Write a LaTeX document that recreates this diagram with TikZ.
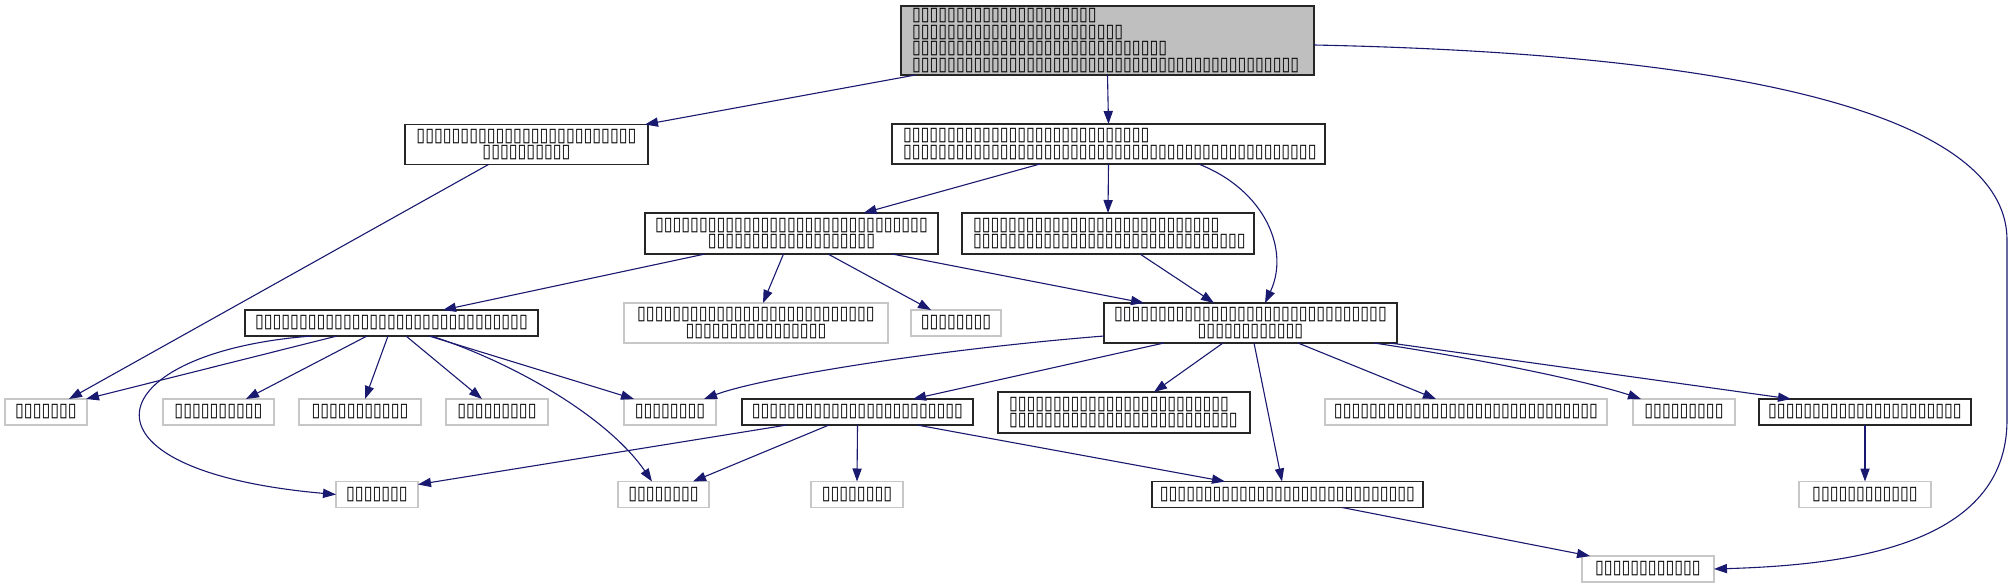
\documentclass[tikz,border=0pt]{standalone}
\usepackage{fontspec}
\newfontfamily\tofu[FakeStretch=0.842]{DejaVu Sans}
\usetikzlibrary{arrows.meta}
\definecolor{edgeblue}{HTML}{191970}
\definecolor{rootgray}{HTML}{BFBFBF}
\begin{document}
\begin{tikzpicture}[x=0.5pt,y=-0.5pt,
  every node/.style={font=\tofu\fontsize{9.5pt}{7pt}\selectfont, inner sep=0pt, outer sep=0pt},
  bbox/.style={draw=black!85, line width=0.6pt, fill=white},
  gbox/.style={draw=black!22, line width=0.7pt, fill=white},
  oneline/.style={minimum height=13pt},
  twoline/.style={minimum height=20pt, align=center},
  conn/.style={draw=edgeblue, line width=0.55pt, -{Triangle[length=6.5pt,width=4.6pt]}}]
\useasboundingbox (0,0) rectangle (2013,588);
% row 0
\node[bbox, fill=rootgray, minimum width=206.5pt, minimum height=34.5pt, text width=195.5pt, align=left] (root) at (1107.5,40.5)
 {▯▯▯▯▯▯▯▯▯▯▯▯▯▯▯▯▯▯▯▯▯\\▯▯▯▯▯▯▯▯▯▯▯▯▯▯▯▯▯▯▯▯▯▯▯▯\\▯▯▯▯▯▯▯▯▯▯▯▯▯▯▯▯▯▯▯▯▯▯▯▯▯▯▯▯▯\\▯▯▯▯▯▯▯▯▯▯▯▯▯▯▯▯▯▯▯▯▯▯▯▯▯▯▯▯▯▯▯▯▯▯▯▯▯▯▯▯▯▯▯▯};
% row 1
\node[bbox, twoline, minimum width=121.5pt] (A) at (526.5,144.5)
 {▯▯▯▯▯▯▯▯▯▯▯▯▯▯▯▯▯▯▯▯▯▯▯▯▯\\▯▯▯▯▯▯▯▯▯▯};
\node[bbox, minimum width=216.5pt, minimum height=20pt, text width=205.5pt, align=left] (B) at (1108.5,144)
 {▯▯▯▯▯▯▯▯▯▯▯▯▯▯▯▯▯▯▯▯▯▯▯▯▯▯▯▯\\▯▯▯▯▯▯▯▯▯▯▯▯▯▯▯▯▯▯▯▯▯▯▯▯▯▯▯▯▯▯▯▯▯▯▯▯▯▯▯▯▯▯▯▯▯▯▯};
% row 2
\node[bbox, twoline, minimum width=146.5pt, minimum height=20.5pt] (C) at (791.5,233.5)
 {▯▯▯▯▯▯▯▯▯▯▯▯▯▯▯▯▯▯▯▯▯▯▯▯▯▯▯▯▯▯▯\\▯▯▯▯▯▯▯▯▯▯▯▯▯▯▯▯▯▯▯};
\node[bbox, minimum width=146pt, minimum height=20.5pt, text width=135pt, align=left] (D) at (1108,233.5)
 {▯▯▯▯▯▯▯▯▯▯▯▯▯▯▯▯▯▯▯▯▯▯▯▯▯▯▯▯\\▯▯▯▯▯▯▯▯▯▯▯▯▯▯▯▯▯▯▯▯▯▯▯▯▯▯▯▯▯▯▯};
% row 3
\node[bbox, oneline, minimum width=146.5pt] (E) at (391.5,323)
 {▯▯▯▯▯▯▯▯▯▯▯▯▯▯▯▯▯▯▯▯▯▯▯▯▯▯▯▯▯▯▯};
\node[gbox, twoline, minimum width=132pt] (F) at (756,323)
 {▯▯▯▯▯▯▯▯▯▯▯▯▯▯▯▯▯▯▯▯▯▯▯▯▯▯▯\\▯▯▯▯▯▯▯▯▯▯▯▯▯▯▯▯};
\node[gbox, oneline, minimum width=45pt] (G) at (956,323) {▯▯▯▯▯▯▯▯};
\node[bbox, twoline, minimum width=146.5pt] (H) at (1250.5,323)
 {▯▯▯▯▯▯▯▯▯▯▯▯▯▯▯▯▯▯▯▯▯▯▯▯▯▯▯▯▯▯▯\\▯▯▯▯▯▯▯▯▯▯▯▯};
% row 4
\node[gbox, oneline, minimum width=41pt] (I) at (46,412) {▯▯▯▯▯▯▯};
\node[gbox, oneline, minimum width=55.5pt] (J) at (218.5,412) {▯▯▯▯▯▯▯▯▯▯};
\node[gbox, oneline, minimum width=61pt] (K) at (360,412) {▯▯▯▯▯▯▯▯▯▯▯};
\node[gbox, oneline, minimum width=51pt] (L) at (497,412) {▯▯▯▯▯▯▯▯▯};
\node[gbox, oneline, minimum width=46pt] (M) at (670,412) {▯▯▯▯▯▯▯▯};
\node[bbox, oneline, minimum width=115.5pt] (N) at (857.5,412) {▯▯▯▯▯▯▯▯▯▯▯▯▯▯▯▯▯▯▯▯▯▯▯▯};
\node[bbox, minimum width=126pt, minimum height=20.5pt, text width=115pt, align=left] (O) at (1124,412.5)
 {▯▯▯▯▯▯▯▯▯▯▯▯▯▯▯▯▯▯▯▯▯▯▯▯▯\\▯▯▯▯▯▯▯▯▯▯▯▯▯▯▯▯▯▯▯▯▯▯▯▯▯▯};
\node[gbox, oneline, minimum width=141pt] (P) at (1466,412) {▯▯▯▯▯▯▯▯▯▯▯▯▯▯▯▯▯▯▯▯▯▯▯▯▯▯▯▯▯▯};
\node[gbox, oneline, minimum width=51pt] (Q) at (1684,412) {▯▯▯▯▯▯▯▯▯};
\node[bbox, oneline, minimum width=106pt] (R) at (1865,412) {▯▯▯▯▯▯▯▯▯▯▯▯▯▯▯▯▯▯▯▯▯▯};
% row 5
\node[gbox, oneline, minimum width=41pt] (S) at (377,494.5) {▯▯▯▯▯▯▯};
\node[gbox, oneline, minimum width=45.5pt] (T) at (663.5,494.5) {▯▯▯▯▯▯▯▯};
\node[gbox, oneline, minimum width=46pt] (U) at (857,494.5) {▯▯▯▯▯▯▯▯};
\node[bbox, oneline, minimum width=135.5pt] (V) at (1287.5,494.5) {▯▯▯▯▯▯▯▯▯▯▯▯▯▯▯▯▯▯▯▯▯▯▯▯▯▯▯▯▯};
\node[gbox, oneline, minimum width=66pt] (W) at (1865,494.5) {▯▯▯▯▯▯▯▯▯▯▯▯};
% row 6
\node[gbox, oneline, minimum width=66pt] (X) at (1648,569) {▯▯▯▯▯▯▯▯▯▯▯▯};
% edges
\draw[conn] ([shift={(-192,0)}]root.south) -- ([shift={(-3,0)}]A.north east);
\draw[conn] (root.south) -- (B.north);
\draw[conn] ([shift={(0,4.5)}]root.east) .. controls (1800,55) and (2007,130) .. (2007,240) -- (2007,420) .. controls (2007,545) and (1850,565) .. (X.east);
\draw[conn] ([shift={(-38,0)}]A.south) -- ([shift={(-18,0)}]I.north east);
\draw[conn] ([shift={(-68.5,0)}]B.south) -- ([shift={(72,0)}]C.north);
\draw[conn] (B.south) -- (D.north);
\draw[conn] ([shift={(90,0)}]B.south) .. controls (1265,190) and (1290,250) .. ([shift={(14.5,0)}]H.north);
\draw[conn] ([shift={(-86.5,0)}]C.south) -- ([shift={(51.5,0)}]E.north);
\draw[conn] ([shift={(-8,0)}]C.south) -- ([shift={(7,0)}]F.north);
\draw[conn] ([shift={(36.5,0)}]C.south) -- ([shift={(-25,0)}]G.north);
\draw[conn] ([shift={(100.5,0)}]C.south) -- ([shift={(-106.5,0)}]H.north);
\draw[conn] ([shift={(32,0)}]D.south) -- ([shift={(-36.5,0)}]H.north);
\draw[conn] ([shift={(-54.5,0)}]E.south) -- ([shift={(-1,0)}]I.north east);
\draw[conn] ([shift={(-24.5,0)}]E.south) -- ([shift={(27.5,0)}]J.north);
\draw[conn] ([shift={(-3.5,0)}]E.south) -- ([shift={(5,0)}]K.north);
\draw[conn] ([shift={(14.5,0)}]E.south) -- ([shift={(-15,0)}]L.north);
\draw[conn] ([shift={(37.5,0)}]E.south) -- ([shift={(-36,0)}]M.north);
\draw[conn] ([shift={(-79.5,0)}]E.south) .. controls (100,352) and (60,470) .. (S.west);
\draw[conn] ([shift={(40,0)}]E.south) .. controls (520,365) and (610,420) .. ([shift={(-11.5,0)}]T.north);
\draw[conn] ([shift={(0,-7)}]H.south west) .. controls (930,350) and (760,378) .. ([shift={(-12,0)}]M.north east);
\draw[conn] ([shift={(-86.5,0)}]H.south) -- ([shift={(55.5,0)}]N.north);
\draw[conn] ([shift={(-27.5,0)}]H.south) -- ([shift={(30,0)}]O.north);
\draw[conn] ([shift={(3.5,0)}]H.south) -- ([shift={(-5.5,0)}]V.north);
\draw[conn] ([shift={(47.5,0)}]H.south) -- ([shift={(-30,0)}]P.north);
\draw[conn] ([shift={(123.5,0)}]H.south) .. controls (1500,362) and (1600,385) .. ([shift={(-43,0)}]Q.north);
\draw[conn] ([shift={(139.5,0)}]H.south) -- ([shift={(-74,0)}]R.north);
\draw[conn] ([shift={(-70.5,0)}]N.south) -- ([shift={(0,-10)}]S.east);
\draw[conn] ([shift={(-28.5,0)}]N.south) -- ([shift={(29.5,0)}]T.north);
\draw[conn] (N.south) -- (U.north);
\draw[conn] ([shift={(59.5,0)}]N.south) -- ([shift={(-62.5,0)}]V.north);
\draw[conn] (R.south) -- (W.north);
\draw[conn] ([shift={(54.5,0)}]V.south) -- ([shift={(8,0)}]X.north west);
\end{tikzpicture}
\end{document}
